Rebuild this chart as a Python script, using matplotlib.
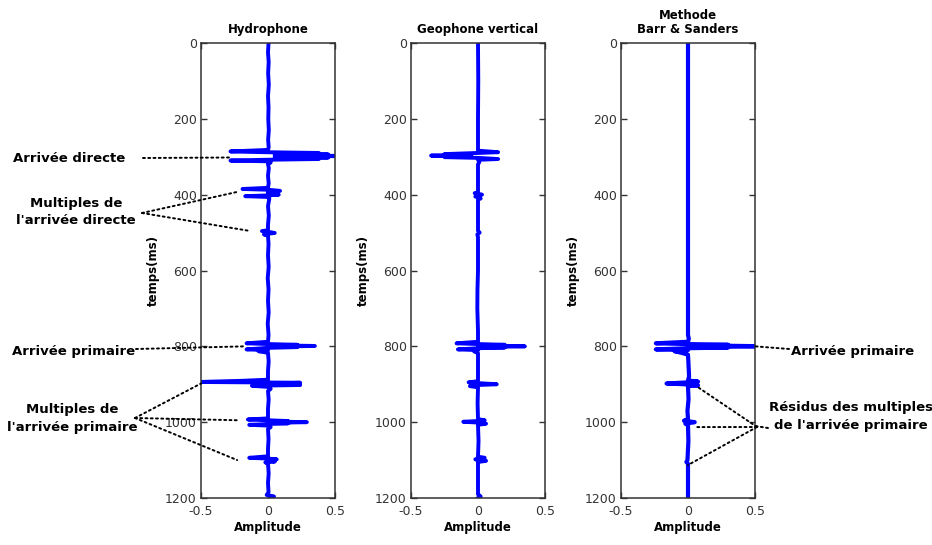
import matplotlib
matplotlib.use('Agg')
import matplotlib.pyplot as plt
from matplotlib.patches import ConnectionPatch

# Hydrophone trace, key samples (time ms, amplitude)
t_hydro = [0, 25, 50, 80, 110, 140, 170, 200, 230, 255, 275, 282,
           286, 288, 290, 292, 294, 296, 298, 300, 302, 304, 306, 308, 310, 312, 315, 320,
           330, 350, 370, 382,
           385, 387, 390, 392, 395, 397, 400, 402, 404, 406, 410,
           430, 455, 480, 494, 496, 498, 501, 503, 505, 508,
           530, 560, 590, 620, 650, 680, 710, 740, 770, 788,
           792, 794, 796, 797, 799, 801, 802, 804, 808, 810, 813, 817,
           840, 865, 888,
           891, 894, 896, 899, 902, 904, 907, 912, 918,
           940, 965, 990,
           993, 995, 997, 998, 1000, 1002, 1003, 1005, 1007, 1009, 1013, 1018,
           1045, 1070, 1090,
           1094, 1096, 1098, 1100, 1104, 1106, 1110,
           1135, 1160, 1185, 1192, 1196, 1200]
a_hydro = [0.004, 0.0, 0.005, 0.001, 0.006, 0.0, 0.004, 0.002, 0.006, 0.001, 0.005, 0.0,
           -0.28, -0.02, 0.38, 0.05, 0.45, 0.05, 0.6, 0.05, 0.45, 0.05, 0.38, -0.02, -0.28, -0.01, 0.02, 0.0,
           0.006, 0.0, 0.005, 0.0,
           -0.19, 0.0, 0.09, 0.0, 0.06, 0.0, 0.08, 0.0, -0.17, 0.0, 0.01,
           0.0, 0.006, 0.0, 0.0, -0.045, 0.0, 0.05, 0.0, -0.03, 0.0,
           0.004, 0.0, 0.005, -0.002, 0.004, 0.0, 0.005, -0.002, 0.004, 0.0,
           -0.16, 0.0, 0.22, 0.0, 0.35, 0.0, 0.22, 0.0, -0.16, 0.0, -0.07, 0.0,
           0.005, 0.0, 0.0,
           -0.2, -0.52, 0.24, -0.03, 0.24, -0.12, 0.0, 0.02, 0.0,
           0.005, 0.0, 0.0,
           -0.15, 0.0, 0.15, 0.0, 0.29, 0.0, 0.15, 0.0, -0.14, 0.0, 0.02, 0.0,
           0.004, 0.0, 0.0,
           -0.14, 0.0, 0.065, 0.0, 0.05, -0.02, 0.0,
           0.005, 0.0, 0.004, -0.01, 0.045, 0.02]

# Vertical geophone trace
t_geo = [0, 100, 200, 284,
         288, 290, 293, 295, 297, 299, 301, 303, 306, 308, 314, 320,
         360, 394, 396, 398, 400, 402, 405, 407, 410, 413,
         495, 500, 505, 512,
         600, 650, 700, 760, 788,
         792, 794, 796, 797, 800, 802, 803, 805, 808, 810, 813, 818,
         860, 892, 895, 897, 900, 902, 905, 908,
         950, 992, 995, 997, 999, 1001, 1004, 1007,
         1050, 1091, 1094, 1096, 1098, 1100, 1102, 1105,
         1150, 1190, 1196, 1200]
a_geo = [0.0, 0.002, 0.0, 0.0,
         0.15, 0.0, -0.25, -0.05, -0.35, -0.05, -0.25, 0.0, 0.15, 0.0, 0.01, 0.0,
         0.0, 0.0, -0.025, 0.0, 0.03, 0.0, -0.02, 0.0, 0.02, 0.0,
         0.0, 0.012, -0.005, 0.0,
         0.0, -0.004, -0.005, 0.0, 0.0,
         -0.16, 0.0, 0.2, 0.0, 0.35, 0.0, 0.2, 0.0, -0.15, 0.0, -0.03, 0.0,
         0.0, 0.0, -0.07, 0.0, 0.14, 0.0, -0.06, 0.0,
         -0.003, 0.0, 0.05, 0.0, -0.11, 0.0, 0.06, 0.0,
         0.004, 0.0, 0.05, 0.0, -0.02, 0.0, 0.06, 0.0,
         0.0, 0.0, 0.02, 0.0]

# Barr & Sanders combined trace
t_bs = [0, 400, 700, 770, 780, 788,
        792, 794, 796, 797, 800, 802, 803, 805, 808, 810, 813, 817, 822,
        850, 880, 890, 893, 895, 898, 900, 903, 905,
        940, 970, 992, 996, 1000, 1004, 1008,
        1050, 1100, 1105, 1110, 1200]
a_bs = [0.0, 0.0, 0.0, 0.0, 0.006, 0.0,
        -0.24, 0.0, 0.3, 0.0, 0.6, 0.0, 0.3, 0.0, -0.24, 0.0, -0.1, -0.05, 0.0,
        0.004, 0.008, 0.0, 0.075, 0.0, -0.16, -0.03, 0.075, 0.0,
        0.004, -0.004, 0.0, -0.03, 0.05, -0.02, 0.0,
        0.003, -0.004, -0.012, 0.0, 0.0]

titles = ['Hydrophone', 'Geophone vertical', 'Methode\nBarr & Sanders']
y_ticks = [0, 200, 400, 600, 800, 1000, 1200]
x_ticks = [-0.5, 0, 0.5]
x_tick_labels = ['-0.5', '0', '0.5']

W, H = 932, 545
plt.rcParams['font.family'] = ['DejaVu Sans']


def fpos(x, y):
    # image pixel -> figure fraction
    return x / W, 1 - y / H


fig = plt.figure(figsize=(W / 100, H / 100), dpi=100)

lefts = [201, 411, 621]
traces = [(t_hydro, a_hydro, 2.8), (t_geo, a_geo, 2.8), (t_bs, a_bs, 3.0)]
axes = []
for i, (t, a, lw) in enumerate(traces):
    ax = fig.add_axes([lefts[i] / W, (H - 498) / H, 134 / W, 455 / H])
    ax.plot(a, t, color='#0000ff', lw=lw, solid_joinstyle='round')
    ax.set_xlim(-0.5, 0.5)
    ax.set_ylim(1200, 0)
    ax.set_xticks(x_ticks)
    ax.set_xticklabels(x_tick_labels)
    ax.set_yticks(y_ticks)
    ax.tick_params(direction='in', top=True, right=True, length=4, width=1,
                   labelsize=9, labelcolor='#333333', color='#333333')
    ax.tick_params(axis='x', pad=5)
    ax.tick_params(axis='y', pad=3)
    for s in ax.spines.values():
        s.set_linewidth(1.1)
        s.set_color('#333333')
    ax.set_title(titles[i], fontsize=8.5, fontweight='bold', pad=7, linespacing=1.1)
    ax.set_ylabel('temps(ms)', fontsize=8.5, fontweight='bold', labelpad=4)
    ax.set_xlabel('Amplitude', fontsize=8.5, fontweight='bold', labelpad=2)
    axes.append(ax)

ax1, ax2, ax3 = axes
lab = dict(fontsize=9.5, fontweight='bold', va='center')
dot = dict(color='black', lw=1.4, linestyle=(0, (1, 1.7)))


def dotted(xy_img, ax, xy_data):
    con = ConnectionPatch(xyA=fpos(*xy_img), coordsA='figure fraction',
                          xyB=xy_data, coordsB='data', axesB=ax, **dot)
    con.set_clip_on(False)
    fig.add_artist(con)


# left side annotations
fig.text(*fpos(13, 158), 'Arrivée directe', ha='left', **lab)
dotted((143, 158), ax1, (-0.29, 302))

fig.text(*fpos(76, 212), 'Multiples de\nl\'arrivée directe', ha='center',
         multialignment='center', linespacing=1.5, **lab)
dotted((142, 213), ax1, (-0.22, 392))
dotted((142, 213), ax1, (-0.13, 496))

fig.text(*fpos(12, 351), 'Arrivée primaire', ha='left', **lab)
dotted((136, 349), ax1, (-0.17, 800))

fig.text(*fpos(72, 418), 'Multiples de\nl\'arrivée primaire', ha='center',
         multialignment='center', linespacing=1.5, **lab)
dotted((135, 418), ax1, (-0.5, 898))
dotted((135, 418), ax1, (-0.22, 995))
dotted((135, 418), ax1, (-0.23, 1100))

# right side annotations
fig.text(*fpos(791, 351), 'Arrivée primaire', ha='left', **lab)
dotted((789, 349), ax3, (0.5, 800))

fig.text(*fpos(851, 417), 'Résidus des multiples\nde l\'arrivée primaire', ha='center',
         multialignment='center', linespacing=1.5, **lab)
dotted((757, 427), ax3, (0.075, 908))
dotted((757, 427), ax3, (0.05, 1013))
dotted((757, 427), ax3, (0.0, 1113))
dotted((768, 428), ax3, (0.5, 1010))

fig.savefig('out.png', dpi=100)
